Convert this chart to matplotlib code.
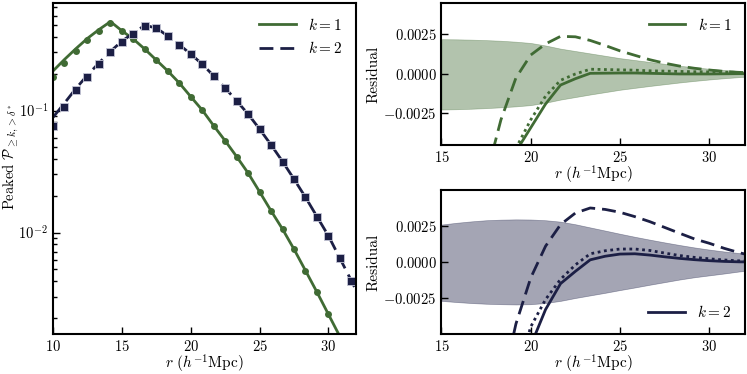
"""
Peaked probability vs radius, with residual panels for k=1 and k=2
"""

import matplotlib
matplotlib.use("Agg")
import matplotlib.pyplot as plt
import numpy as np


# data
r = [10.0, 10.83, 11.67, 12.5, 13.33, 14.17, 15.0, 15.83, 16.67, 17.5,
     18.33, 19.17, 20.0, 20.83, 21.67, 22.5, 23.33, 24.17, 25.0, 25.83,
     26.67, 27.5, 28.33, 29.17, 30.0, 30.83, 31.67, 32.5]

# left panel: model lines
k1_line = [0.211, 0.262, 0.322, 0.39, 0.46, 0.535, 0.45, 0.385, 0.318,
           0.259, 0.211, 0.168, 0.130, 0.101, 0.0750, 0.0565, 0.0420,
           0.0307, 0.0216, 0.0151, 0.01067, 0.00731, 0.00489, 0.00325,
           0.00214, 0.00141, 0.00091, 0.00058]
k2_line = [0.088, 0.115, 0.152, 0.195, 0.245, 0.305, 0.37, 0.43, 0.50,
           0.473, 0.409, 0.346, 0.290, 0.240, 0.192, 0.153, 0.120, 0.0934,
           0.0705, 0.0524, 0.0382, 0.0274, 0.0195, 0.0135, 0.0094, 0.00617,
           0.00402, 0.0026]

# left panel: measured points
k1_pts = [0.190, 0.244, 0.310, 0.375, 0.450, 0.520, 0.450, 0.385, 0.318,
          0.259, 0.211, 0.168, 0.130, 0.101, 0.0750, 0.0565, 0.0420,
          0.0307, 0.0216, 0.0151, 0.01067, 0.00731, 0.00489, 0.00325,
          0.00214, 0.00141, 0.00091]
k2_pts = [0.0750, 0.106, 0.146, 0.190, 0.240, 0.299, 0.364, 0.423, 0.494,
          0.473, 0.409, 0.346, 0.290, 0.240, 0.192, 0.153, 0.120, 0.0934,
          0.0705, 0.0524, 0.0382, 0.0274, 0.0195, 0.0135, 0.0094, 0.00617,
          0.00402]

# residual panels (r from 15 to 32.5)
r_res = r[6:]
k1_band_hi = [0.0022, 0.00219, 0.00217, 0.00214, 0.0021, 0.00204, 0.00196,
              0.0018, 0.0016, 0.00145, 0.0013, 0.00115, 0.001, 0.00088,
              0.00076, 0.00064, 0.00052, 0.00042, 0.00033, 0.00025,
              0.00018, 0.00012]
k1_band_lo = [-0.00225, -0.00223, -0.0022, -0.00216, -0.00211, -0.00205,
              -0.00197, -0.00182, -0.00162, -0.00146, -0.0013, -0.00115,
              -0.001, -0.00088, -0.00076, -0.00065, -0.00054, -0.00044,
              -0.00035, -0.00027, -0.0002, -0.00014]
k1_solid = [-0.02, -0.018, -0.015, -0.0115, -0.0075, -0.0049, -0.0034,
            -0.0019, -0.0007, -0.0003, 0.00004, 0.00005, 0.00006, 0.00006,
            0.00004, 0.00002, 0.0, 0.0, 0.0, 0.00001, 0.00002, 0.00002]
k1_dotted = [-0.02, -0.018, -0.015, -0.012, -0.008, -0.0047, -0.0029,
             -0.0014, -0.0004, 0.0, 0.0003, 0.00028, 0.00026, 0.00024,
             0.0002, 0.00018, 0.00016, 0.00014, 0.00013, 0.00011, 0.0001,
             0.0001]
k1_dashed = [-0.02, -0.017, -0.013, -0.0065, -0.0029, -0.00025, 0.0012,
             0.0019, 0.00238, 0.00235, 0.00212, 0.0018, 0.00146, 0.00118,
             0.0009, 0.00068, 0.0005, 0.00036, 0.00025, 0.00016, 0.0001,
             0.00007]

k2_band_hi = [0.0026, 0.00272, 0.00282, 0.0029, 0.00294, 0.00296, 0.00295,
              0.0029, 0.0028, 0.00262, 0.0024, 0.00218, 0.00196, 0.00175,
              0.00155, 0.00136, 0.00118, 0.00101, 0.00086, 0.00073,
              0.00062, 0.00052]
k2_band_lo = [-0.0027, -0.00278, -0.00285, -0.0029, -0.00293, -0.00295,
              -0.00293, -0.00285, -0.0027, -0.0025, -0.00232, -0.00214,
              -0.00195, -0.00177, -0.00158, -0.0014, -0.00122, -0.00106,
              -0.00093, -0.0008, -0.00066, -0.00055]
k2_solid = [-0.03, -0.027, -0.023, -0.019, -0.014, -0.009, -0.0058,
            -0.0033, -0.0015, -0.00065, 0.00015, 0.0004, 0.00055, 0.00057,
            0.00048, 0.00036, 0.00025, 0.00016, 0.00009, 0.00004, 0.00001,
            0.0]
k2_dotted = [-0.03, -0.027, -0.023, -0.018, -0.013, -0.008, -0.0045,
             -0.0026, -0.0012, -0.0002, 0.00057, 0.00078, 0.0009, 0.0009,
             0.0008, 0.00062, 0.00045, 0.00032, 0.00022, 0.00014, 0.00008,
             0.00005]
k2_dashed = [-0.03, -0.026, -0.021, -0.015, -0.009, -0.0043, -0.0011,
             0.0011, 0.0026, 0.0034, 0.00375, 0.00365, 0.00345, 0.00315,
             0.0028, 0.0024, 0.002, 0.0016, 0.0013, 0.00095, 0.00065, 0.0004]


# style
plt.rcParams["font.family"] = "serif"
plt.rcParams["font.serif"] = ["cmr10"]
plt.rcParams["mathtext.fontset"] = "cm"
plt.rcParams["axes.unicode_minus"] = False
plt.rcParams["axes.formatter.use_mathtext"] = True
plt.rcParams["font.size"] = 11
plt.rcParams["xtick.labelsize"] = 10.5
plt.rcParams["ytick.labelsize"] = 10.5
plt.rcParams["legend.fontsize"] = 11
plt.rcParams["axes.linewidth"] = 1.5

green = "#406b34"
navy = "#1c1f45"
dash = (0, (5, 2.5))

fig = plt.figure(figsize=(7.47, 3.74), dpi=100)
ax0 = fig.add_axes([0.071, 0.107, 0.4056, 0.885])
ax1 = fig.add_axes([0.591, 0.612, 0.4063, 0.3805])
ax2 = fig.add_axes([0.591, 0.107, 0.4063, 0.385])

for axis in [ax0, ax1, ax2]:
    axis.tick_params(which="both", direction="in", top=False, right=False,
                     width=1)
    axis.tick_params(which="major", length=5)
    axis.tick_params(which="minor", length=3)
    axis.set_xlabel(r"$r\ (h^{-1}\mathrm{Mpc})$", labelpad=-1)

# left panel
ax0.plot(r, k1_line, color=green, lw=2, label=r"$k=1$")
ax0.plot(r, k2_line, color=navy, lw=2, linestyle=dash, label=r"$k=2$")
ax0.plot(r[:len(k1_pts)], k1_pts, "o", color=green, ms=5, mew=0)
ax0.plot(r[:len(k2_pts)], k2_pts, "s", color=navy, ms=5.5,
         mec="#c4c6d6", mew=0.6)
ax0.set_yscale("log")
ax0.set_xlim(10, 32)
ax0.set_ylim(1.48e-3, 0.76)
ax0.set_xticks([10, 15, 20, 25, 30])
ax0.set_ylabel(r"Peaked $\mathcal{P}_{\geq k,>\delta^*}$", fontsize=10.5)
ax0.yaxis.set_label_coords(-0.105, 0.535)
ax0.legend(loc="upper right", frameon=False, handlelength=2.4)

# residual panels
for axis, col, hi, lo, sol, dot, das, lab, loc, lim in [
        (ax1, green, k1_band_hi, k1_band_lo, k1_solid, k1_dotted, k1_dashed,
         r"$k=1$", "upper right", 0.0045),
        (ax2, navy, k2_band_hi, k2_band_lo, k2_solid, k2_dotted, k2_dashed,
         r"$k=2$", "lower right", 0.005)]:
    axis.fill_between(r_res, lo, hi, color=col, alpha=0.4, lw=0.5)
    axis.plot(r_res, sol, color=col, lw=2, label=lab)
    axis.plot(r_res, dot, color=col, lw=2, linestyle=(0, (1, 1.3)))
    axis.plot(r_res, das, color=col, lw=2, linestyle=dash)
    axis.set_xlim(15, 32)
    axis.set_ylim(-lim, lim)
    axis.set_xticks([15, 20, 25, 30])
    axis.set_yticks([-0.0025, 0.0, 0.0025])
    axis.set_ylabel("Residual", labelpad=2)
    axis.legend(loc=loc, frameon=False, handlelength=2.4)

fig.savefig("out.png", dpi=100)
plt.close(fig)
